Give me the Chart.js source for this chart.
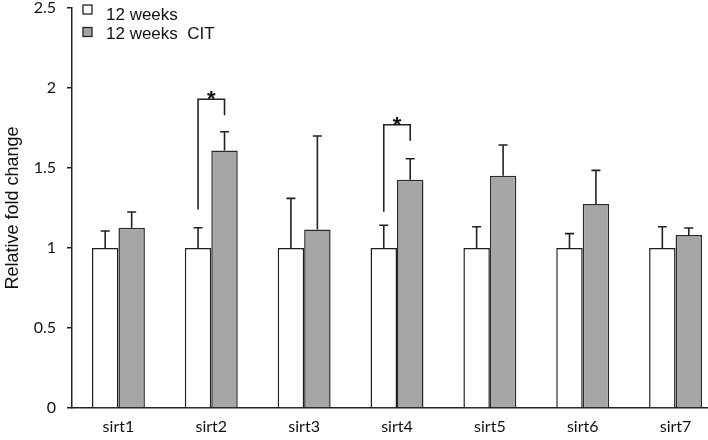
<!DOCTYPE html>
<html>
<head>
<meta charset="utf-8">
<script src="https://cdn.jsdelivr.net/npm/chart.js@4/dist/chart.umd.min.js"></script>
<style>
  html, body { margin: 0; padding: 0; background: #fff; overflow: hidden; }
  #wrap { width: 708px; height: 440px; overflow: hidden; position: relative; }
  canvas { display: block; }
</style>
</head>
<body>
<div id="wrap"><canvas id="c" width="722" height="440" style="width:722px;height:440px"></canvas></div>
<script>
// ---- data ----
const categories = ['sirt1', 'sirt2', 'sirt3', 'sirt4', 'sirt5', 'sirt6', 'sirt7'];
const seriesNames = ['12 weeks', '12 weeks  CIT'];
const weeks12 = [1, 1, 1, 1, 1, 1, 1];
const weeks12Err = [0.106, 0.127, 0.31, 0.142, 0.133, 0.09, 0.133];
const weeks12Cit = [1.127, 1.61, 1.115, 1.427, 1.452, 1.275, 1.081];
const weeks12CitErr = [0.098, 0.117, 0.585, 0.131, 0.192, 0.21, 0.044];
const yTicks = [0, 0.5, 1, 1.5, 2, 2.5];
const yTickLabels = ['0', '0.5', '1', '1.5', '2', '2.5'];
// significance brackets (category index, left leg bottom, right leg bottom, bracket top)
const sigIndex = [1, 3];
const sigLeftBase = [1.24, 1.227];
const sigRightBase = [1.83, 1.67];
const sigTop = [1.93, 1.77];
const errors = [weeks12Err, weeks12CitErr];

const errorBarPlugin = {
  id: 'errorBars',
  afterDatasetsDraw(chart) {
    const ctx = chart.ctx;
    const y = chart.scales.y;
    ctx.save();
    ctx.strokeStyle = '#222';
    ctx.lineWidth = 1.6;
    chart.data.datasets.forEach((ds, di) => {
      const meta = chart.getDatasetMeta(di);
      meta.data.forEach((bar, i) => {
        const top = y.getPixelForValue(ds.data[i] + errors[di][i]);
        ctx.beginPath();
        ctx.moveTo(bar.x, bar.y);
        ctx.lineTo(bar.x, top);
        ctx.moveTo(bar.x - 4.5, top);
        ctx.lineTo(bar.x + 4.5, top);
        ctx.stroke();
      });
    });
    const m0 = chart.getDatasetMeta(0), m1 = chart.getDatasetMeta(1);
    sigIndex.forEach((idx, k) => {
      const xl = m0.data[idx].x, xr = m1.data[idx].x;
      const yt = y.getPixelForValue(sigTop[k]);
      ctx.beginPath();
      ctx.moveTo(xl, y.getPixelForValue(sigLeftBase[k]));
      ctx.lineTo(xl, yt);
      ctx.lineTo(xr, yt);
      ctx.lineTo(xr, y.getPixelForValue(sigRightBase[k]));
      ctx.stroke();
      ctx.fillStyle = '#111';
      ctx.font = 'bold 22px "Liberation Sans", Arial, sans-serif';
      ctx.textAlign = 'center';
      ctx.textBaseline = 'alphabetic';
      ctx.fillText('*', (xl + xr) / 2, yt + 7);
    });
    ctx.restore();
  }
};

const legendPlugin = {
  id: 'customLegend',
  afterDraw(chart) {
    const ctx = chart.ctx;
    ctx.save();
    ctx.font = '17px "Liberation Sans", Arial, sans-serif';
    ctx.textBaseline = 'alphabetic';
    ctx.textAlign = 'left';
    chart.data.datasets.forEach((ds, i) => {
      const sy = 5 + i * 22.5;
      ctx.fillStyle = ds.backgroundColor;
      ctx.fillRect(83, sy, 9, 9);
      ctx.strokeStyle = '#222';
      ctx.lineWidth = 1.3;
      ctx.strokeRect(83, sy, 9, 9);
      ctx.fillStyle = '#111';
      ctx.fillText(ds.label, 106, 20 + i * 18.5);
    });
    ctx.restore();
  }
};

new Chart(document.getElementById('c'), {
  type: 'bar',
  data: {
    labels: categories,
    datasets: [
      { label: seriesNames[0], data: weeks12, backgroundColor: '#ffffff', borderColor: '#1f1f1f', borderWidth: 1.5 },
      { label: seriesNames[1], data: weeks12Cit, backgroundColor: '#a6a6a6', borderColor: '#2a2a2a', borderWidth: 1.5 }
    ]
  },
  options: {
    responsive: false,
    animation: false,
    devicePixelRatio: 1,
    layout: { padding: { top: 8, left: 0, right: 0, bottom: 0 } },
    datasets: { bar: { categoryPercentage: 0.57, barPercentage: 1.0 } },
    plugins: { legend: { display: false }, tooltip: { enabled: false } },
    scales: {
      x: {
        grid: { display: false, drawTicks: false },
        border: { display: true, color: '#222', width: 1.5 },
        ticks: { color: '#111', font: { family: 'Lato, "Open Sans", sans-serif', size: 16 }, padding: 9 },
        afterFit(s) { s.height = 32; }
      },
      y: {
        min: 0, max: 2.5,
        afterBuildTicks(s) { s.ticks = yTicks.map(v => ({ value: v })); },
        grid: { drawOnChartArea: false, drawTicks: true, tickLength: 5, color: '#222', lineWidth: 1.5 },
        border: { display: true, color: '#222', width: 1.5 },
        ticks: {
          color: '#111', font: { family: 'Lato, "Open Sans", sans-serif', size: 16 }, padding: 11,
          callback: (v) => yTickLabels[yTicks.indexOf(v)]
        },
        title: { display: true, text: 'Relative fold change', color: '#111', font: { family: '"Liberation Sans", Arial, sans-serif', size: 18 }, padding: { top: 2, bottom: 0 } },
        afterFit(s) { s.width = 72; s.paddingTop = 0; s.paddingBottom = 0; }
      }
    }
  },
  plugins: [errorBarPlugin, legendPlugin]
});
</script>
</body>
</html>
